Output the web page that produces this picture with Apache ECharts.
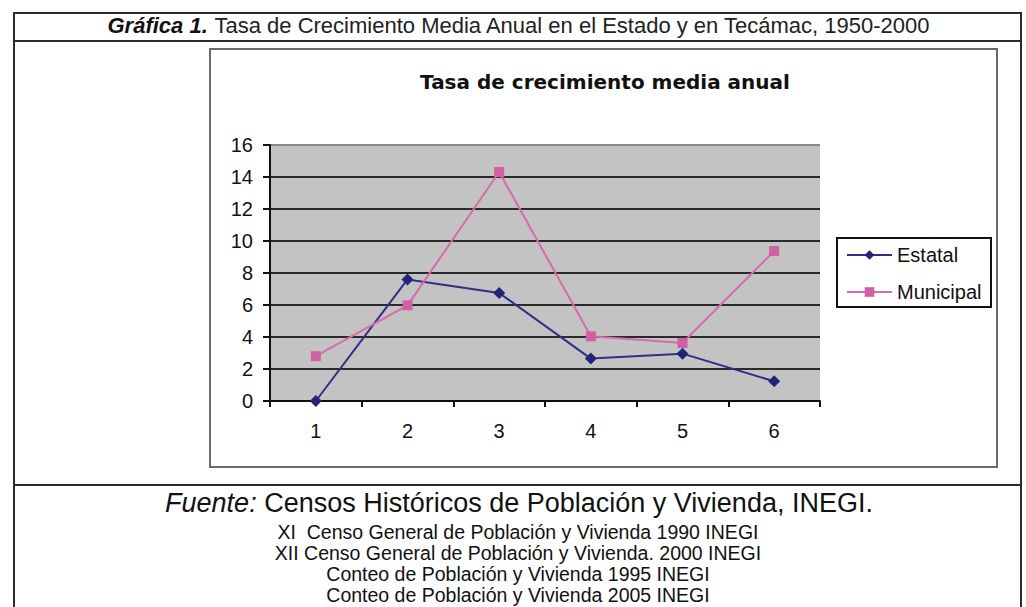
<!DOCTYPE html>
<html>
<head>
<meta charset="utf-8">
<script src="https://cdn.jsdelivr.net/npm/echarts@6/dist/echarts.min.js"></script>
<style>
html,body{margin:0;padding:0;background:#fff;}
#chart{width:1026px;height:607px;}
</style>
</head>
<body>
<div id="chart"></div>
<script>
var categories = ['1', '2', '3', '4', '5', '6'];
var seriesNames = ['Estatal', 'Municipal'];
var estatal = [0, 7.6, 6.75, 2.65, 2.96, 1.23];
var municipal = [2.8, 5.98, 14.31, 4.04, 3.63, 9.37];
var yTicks = { min: 0, max: 16, interval: 2 };
var pageTitleBold = 'Gráfica 1.';
var pageTitleRest = ' Tasa de Crecimiento Media Anual en el Estado y en Tecámac, 1950-2000';
var chartTitle = 'Tasa de crecimiento media anual';
var sourceLead = 'Fuente:';
var sourceRest = ' Censos Históricos de Población y Vivienda, INEGI.';
var sourceLines = [
  'XI  Censo General de Población y Vivienda 1990 INEGI',
  'XII Censo General de Población y Vivienda. 2000 INEGI',
  'Conteo de Población y Vivienda 1995 INEGI',
  'Conteo de Población y Vivienda 2005 INEGI'
];

var chart = echarts.init(document.getElementById('chart'), null, { renderer: 'svg' });
var FONT = '"Liberation Sans", Arial, sans-serif';
var frameColor = '#2b2b2b';

var graphics = [
  // outer frame
  { type: 'line', shape: { x1: 14, y1: 13, x2: 14, y2: 640 }, style: { stroke: frameColor, lineWidth: 2 }, silent: true },
  { type: 'line', shape: { x1: 1021, y1: 13, x2: 1021, y2: 640 }, style: { stroke: frameColor, lineWidth: 2 }, silent: true },
  { type: 'line', shape: { x1: 13, y1: 13, x2: 1022, y2: 13 }, style: { stroke: frameColor, lineWidth: 2 }, silent: true },
  { type: 'line', shape: { x1: 13, y1: 41, x2: 1022, y2: 41 }, style: { stroke: frameColor, lineWidth: 2 }, silent: true },
  { type: 'line', shape: { x1: 13, y1: 485, x2: 1022, y2: 485 }, style: { stroke: frameColor, lineWidth: 2 }, silent: true },
  // chart area box
  { type: 'rect', shape: { x: 210, y: 49, width: 787, height: 418 }, style: { fill: 'none', stroke: '#6a6a6a', lineWidth: 2 }, silent: true, z: -1 },
  // legend box
  { type: 'rect', shape: { x: 837, y: 238, width: 154, height: 69 }, style: { fill: '#fff', stroke: '#111', lineWidth: 2 }, silent: true, z: -1 },
  // page title
  {
    type: 'text', x: 519, y: 25, silent: true,
    style: {
      text: '{b|' + pageTitleBold + '}{r|' + pageTitleRest + '}',
      align: 'center', verticalAlign: 'middle',
      rich: {
        b: { fontFamily: FONT, fontSize: 22, fontWeight: 'bold', fontStyle: 'italic', fill: '#111' },
        r: { fontFamily: FONT, fontSize: 22, fill: '#222' }
      }
    }
  },
  // source
  {
    type: 'text', x: 519, y: 503, silent: true,
    style: {
      text: '{i|' + sourceLead + '}{r|' + sourceRest + '}',
      align: 'center', verticalAlign: 'middle',
      rich: {
        i: { fontFamily: FONT, fontSize: 27, fontStyle: 'italic', fill: '#111' },
        r: { fontFamily: FONT, fontSize: 27, fill: '#111' }
      }
    }
  }
];
sourceLines.forEach(function (t, i) {
  graphics.push({
    type: 'text', x: 518, y: 532 + i * 21, silent: true,
    style: { text: t, align: 'center', verticalAlign: 'middle', fontFamily: FONT, fontSize: 19.5, fill: '#111' }
  });
});

var option = {
  backgroundColor: '#fff',
  animation: false,
  title: {
    text: chartTitle,
    left: 600, top: 67,
    textAlign: 'center',
    textStyle: { fontFamily: '"DejaVu Sans", sans-serif', fontWeight: 'bold', fontSize: 20, color: '#111' }
  },
  legend: {
    orient: 'vertical',
    left: 846, top: 244,
    padding: 0,
    itemWidth: 45, itemHeight: 12, itemGap: 15,
    textStyle: { fontFamily: FONT, fontSize: 20, color: '#111', lineHeight: 22 },
    data: seriesNames
  },
  grid: {
    left: 270, right: 206, top: 145, bottom: 206,
    show: true, backgroundColor: '#c3c3c3', borderWidth: 0
  },
  xAxis: {
    type: 'category',
    data: categories,
    boundaryGap: true,
    axisLine: { lineStyle: { color: '#111', width: 2 } },
    axisTick: { show: true, length: 6, lineStyle: { color: '#111', width: 2 } },
    axisLabel: { fontFamily: FONT, fontSize: 20, color: '#111', margin: 20 },
    splitLine: { show: false }
  },
  yAxis: {
    type: 'value',
    min: yTicks.min, max: yTicks.max, interval: yTicks.interval,
    axisLine: { show: true, lineStyle: { color: '#111', width: 2 } },
    axisTick: { show: true, length: 7, lineStyle: { color: '#111', width: 2 } },
    axisLabel: { fontFamily: FONT, fontSize: 20, color: '#111', margin: 17 },
    splitLine: { show: true, lineStyle: { color: ['#2a2a2a', '#2a2a2a', '#2a2a2a', '#2a2a2a', '#2a2a2a', '#2a2a2a', '#2a2a2a', '#2a2a2a', '#888'], width: 2 } }
  },
  series: [
    {
      name: seriesNames[0], type: 'line', data: estatal,
      symbol: 'diamond', symbolSize: 12,
      lineStyle: { color: '#2f2f88', width: 2 },
      itemStyle: { color: '#23237a' }
    },
    {
      name: seriesNames[1], type: 'line', data: municipal,
      symbol: 'rect', symbolSize: 10,
      lineStyle: { color: '#d96aab', width: 2 },
      itemStyle: { color: '#d060a2' }
    }
  ],
  graphic: graphics
};
chart.setOption(option);
</script>
</body>
</html>
